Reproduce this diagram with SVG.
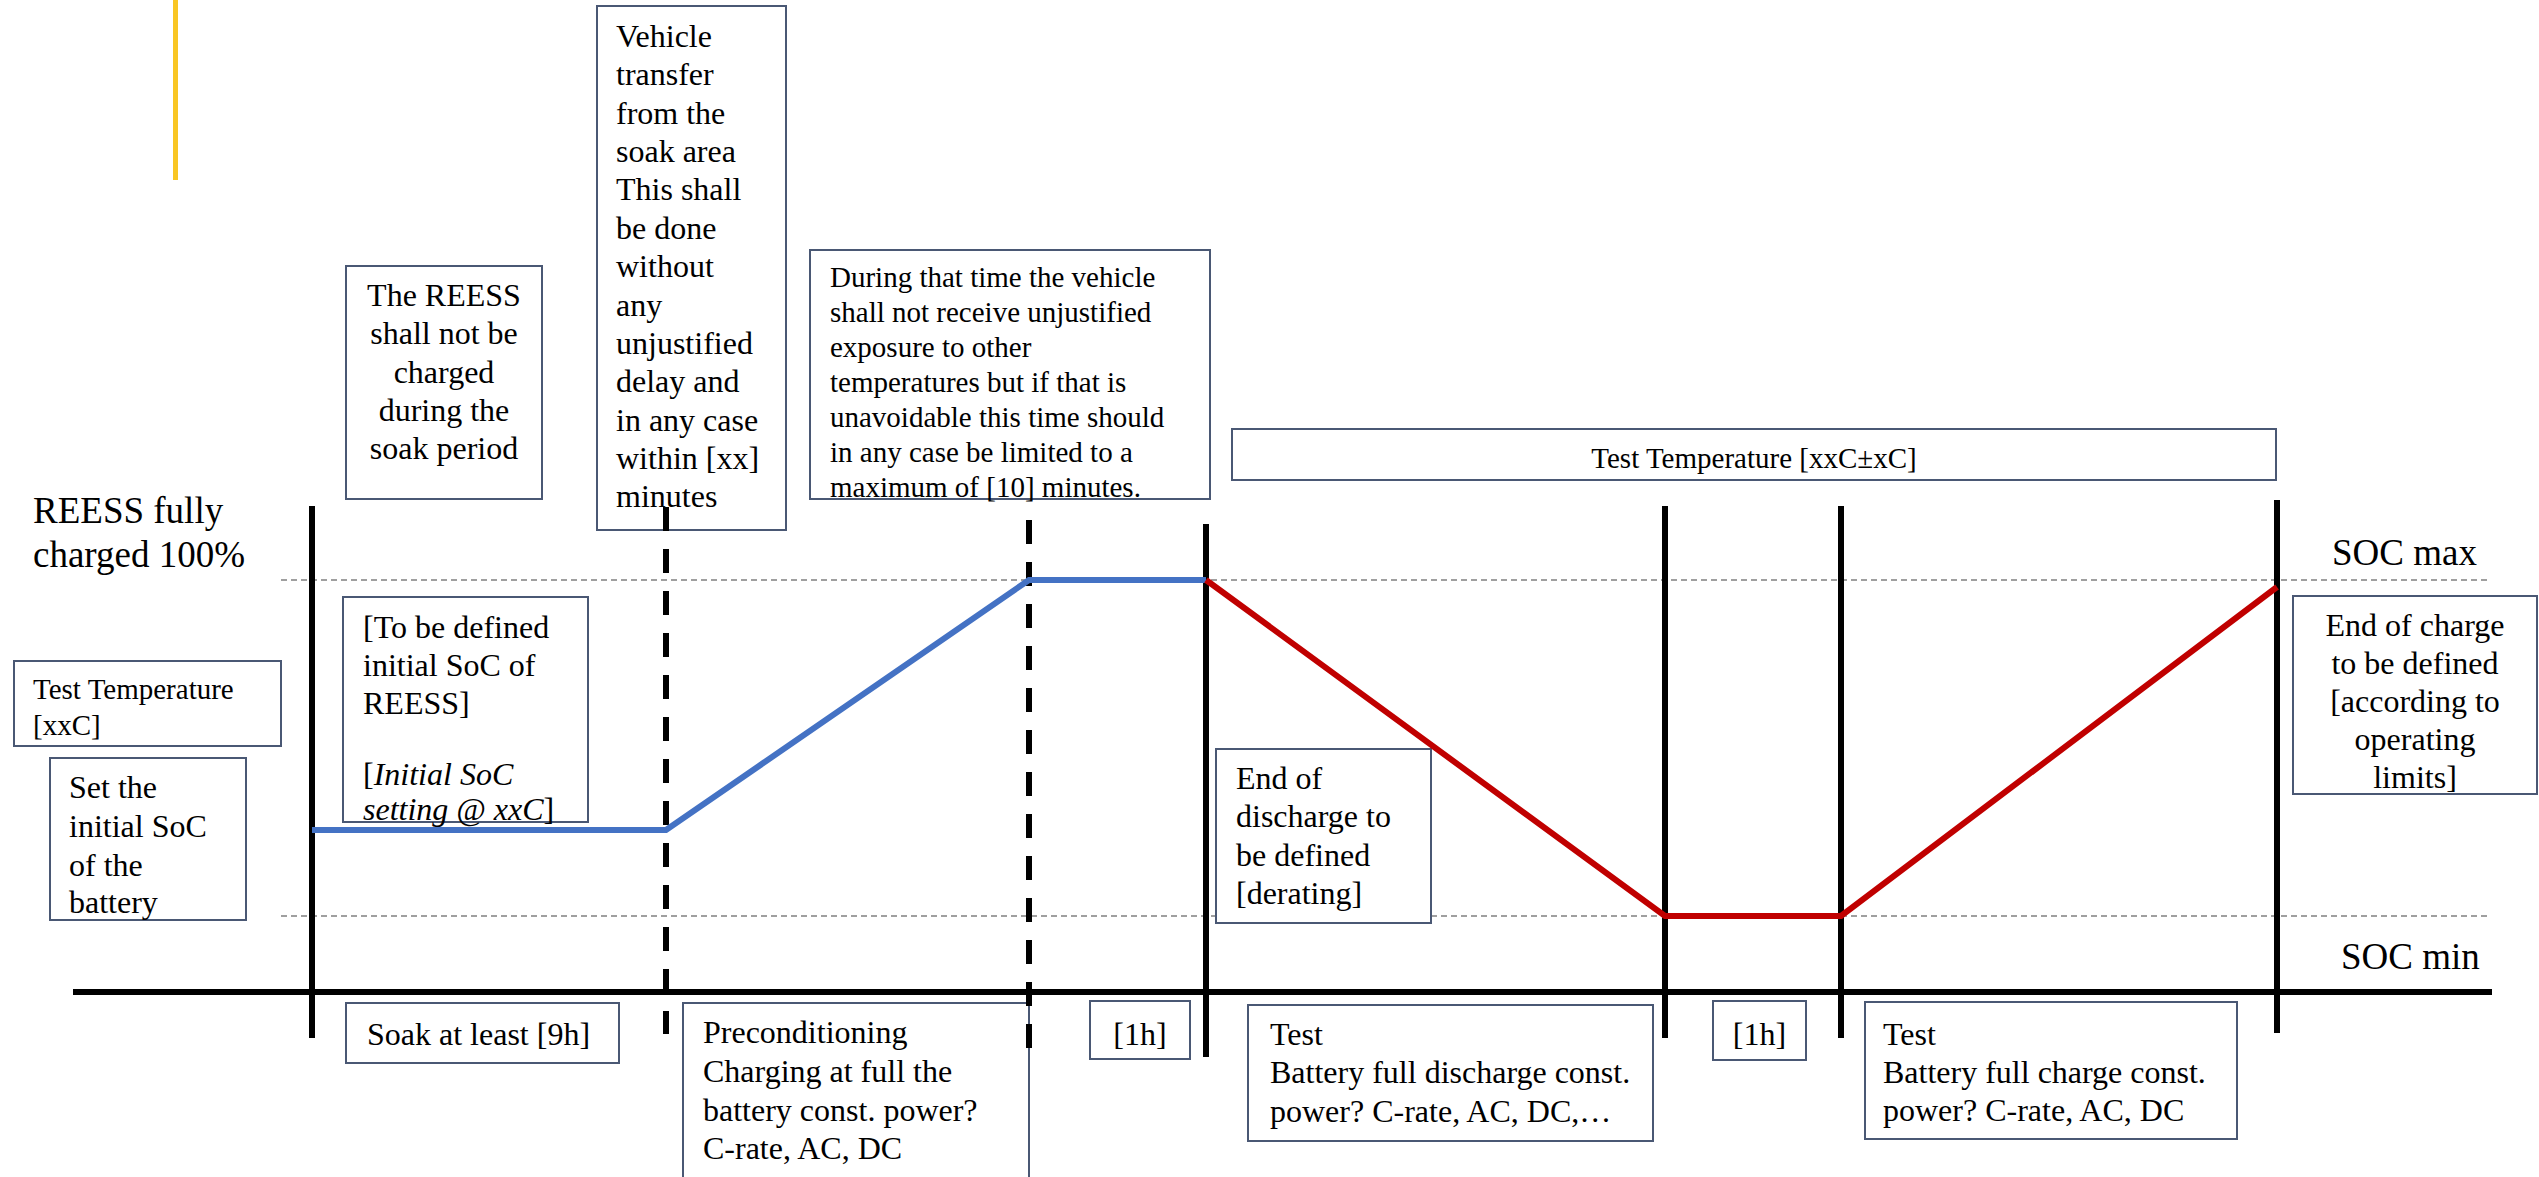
<svg xmlns="http://www.w3.org/2000/svg" width="2539" height="1177" viewBox="0 0 2539 1177">
<style>
text{font-family:"Liberation Serif","Times New Roman",serif;fill:#000}
.box{fill:#fff;stroke:#4a5874;stroke-width:2}
.t32{font-size:32px}
.t29{font-size:29px}
.big{font-size:37px}
.guide{stroke:#808080;stroke-width:1.5;stroke-dasharray:6 4;fill:none}
.solid{stroke:#000;stroke-width:6;fill:none}
.dash{stroke:#000;stroke-width:6;stroke-dasharray:24 18;fill:none}
.mid{text-anchor:middle}
</style>
<rect x="173" y="0" width="5" height="180" fill="#F9C623"/>

<g id="guides">
<line class="guide" x1="281" y1="580" x2="2490" y2="580"/>
<line class="guide" x1="281" y1="916" x2="2490" y2="916"/>
</g>

<g id="label-reess-full">
<text class="big" x="33" y="523">REESS fully</text>
<text class="big" x="33" y="567">charged 100%</text>
</g>
<g id="label-soc-max"><text class="big" x="2332" y="565">SOC max</text></g>
<g id="label-soc-min"><text class="big" x="2341" y="969">SOC min</text></g>

<g id="box-vehicle-transfer">
<rect class="box" x="597" y="6" width="189" height="524"/>
<text class="t32" x="616" y="47">Vehicle</text>
<text class="t32" x="616" y="85">transfer</text>
<text class="t32" x="616" y="124">from the</text>
<text class="t32" x="616" y="162">soak area</text>
<text class="t32" x="616" y="200">This shall</text>
<text class="t32" x="616" y="239">be done</text>
<text class="t32" x="616" y="277">without</text>
<text class="t32" x="616" y="316">any</text>
<text class="t32" x="616" y="354">unjustified</text>
<text class="t32" x="616" y="392">delay and</text>
<text class="t32" x="616" y="431">in any case</text>
<text class="t32" x="616" y="469">within [xx]</text>
<text class="t32" x="616" y="507">minutes</text>
</g>

<g id="box-not-charged">
<rect class="box" x="346" y="266" width="196" height="233"/>
<text class="t32 mid" x="444" y="306">The REESS</text>
<text class="t32 mid" x="444" y="344">shall not be</text>
<text class="t32 mid" x="444" y="383">charged</text>
<text class="t32 mid" x="444" y="421">during the</text>
<text class="t32 mid" x="444" y="459">soak period</text>
</g>

<g id="box-during">
<rect class="box" x="810" y="250" width="400" height="249"/>
<text class="t29" x="830" y="287">During that time the vehicle</text>
<text class="t29" x="830" y="322">shall not receive unjustified</text>
<text class="t29" x="830" y="357">exposure to other</text>
<text class="t29" x="830" y="392">temperatures but if that is</text>
<text class="t29" x="830" y="427">unavoidable this time should</text>
<text class="t29" x="830" y="462">in any case be limited to a</text>
<text class="t29" x="830" y="497">maximum of [10] minutes.</text>
</g>

<g id="box-test-temp-range">
<rect class="box" x="1232" y="429" width="1044" height="51"/>
<text class="t29 mid" x="1754" y="468">Test Temperature [xxC±xC]</text>
</g>

<g id="box-test-temp-left">
<rect class="box" x="14" y="661" width="267" height="85"/>
<text class="t29" x="33" y="699">Test Temperature</text>
<text class="t29" x="33" y="735">[xxC]</text>
</g>

<g id="box-set-initial">
<rect class="box" x="50" y="758" width="196" height="162"/>
<text class="t32" x="69" y="798">Set the</text>
<text class="t32" x="69" y="837">initial SoC</text>
<text class="t32" x="69" y="876">of the</text>
<text class="t32" x="69" y="913">battery</text>
</g>

<g id="box-initial-soc">
<rect class="box" x="343" y="597" width="245" height="225"/>
<text class="t32" x="363" y="638">[To be defined</text>
<text class="t32" x="363" y="676">initial SoC of</text>
<text class="t32" x="363" y="714">REESS]</text>
<text class="t32" x="363" y="785">[<tspan font-style="italic">Initial SoC</tspan></text>
<text class="t32" x="363" y="820"><tspan font-style="italic">setting @ xxC</tspan>]</text>
</g>

<g id="box-end-discharge">
<rect class="box" x="1216" y="749" width="215" height="174"/>
<text class="t32" x="1236" y="789">End of</text>
<text class="t32" x="1236" y="827">discharge to</text>
<text class="t32" x="1236" y="866">be defined</text>
<text class="t32" x="1236" y="904">[derating]</text>
</g>

<g id="box-end-charge">
<rect class="box" x="2293" y="596" width="244" height="198"/>
<text class="t32 mid" x="2415" y="636">End of charge</text>
<text class="t32 mid" x="2415" y="674">to be defined</text>
<text class="t32 mid" x="2415" y="712">[according to</text>
<text class="t32 mid" x="2415" y="750">operating</text>
<text class="t32 mid" x="2415" y="788">limits]</text>
</g>

<g id="box-soak">
<rect class="box" x="346" y="1003" width="273" height="60"/>
<text class="t32" x="367" y="1045">Soak at least [9h]</text>
</g>

<g id="box-preconditioning">
<rect class="box" x="683" y="1003" width="346" height="190"/>
<text class="t32" x="703" y="1043">Preconditioning</text>
<text class="t32" x="703" y="1082">Charging at full the</text>
<text class="t32" x="703" y="1121">battery const. power?</text>
<text class="t32" x="703" y="1159">C-rate, AC, DC</text>
</g>

<g id="box-1h-a">
<rect class="box" x="1090" y="1001" width="100" height="58"/>
<text class="t32 mid" x="1140" y="1045">[1h]</text>
</g>

<g id="box-test-discharge">
<rect class="box" x="1248" y="1005" width="405" height="136"/>
<text class="t32" x="1270" y="1045">Test</text>
<text class="t32" x="1270" y="1083">Battery full discharge const.</text>
<text class="t32" x="1270" y="1122">power? C-rate, AC, DC,…</text>
</g>

<g id="box-1h-b">
<rect class="box" x="1713" y="1001" width="93" height="59"/>
<text class="t32 mid" x="1759.5" y="1045">[1h]</text>
</g>

<g id="box-test-charge">
<rect class="box" x="1865" y="1002" width="372" height="137"/>
<text class="t32" x="1883" y="1045">Test</text>
<text class="t32" x="1883" y="1083">Battery full charge const.</text>
<text class="t32" x="1883" y="1121">power? C-rate, AC, DC</text>
</g>

<g id="connectors">
<line class="solid" x1="73" y1="992" x2="2492" y2="992"/>
<line class="solid" x1="312" y1="506" x2="312" y2="1038"/>
<line class="dash" x1="666" y1="507" x2="666" y2="1034"/>
<line class="dash" x1="1029" y1="520" x2="1029" y2="1048"/>
<line class="solid" x1="1206" y1="524" x2="1206" y2="1057"/>
<line class="solid" x1="1665" y1="506" x2="1665" y2="1038"/>
<line class="solid" x1="1841" y1="506" x2="1841" y2="1038"/>
<line class="solid" x1="2277" y1="500" x2="2277" y2="1033"/>
<polyline points="312,830 666,830 1029,580 1206,580" fill="none" stroke="#4472C4" stroke-width="6" stroke-linejoin="miter"/>
<polyline points="1206,580 1665,916 1841,916 2277,587" fill="none" stroke="#C00000" stroke-width="6" stroke-linejoin="miter"/>
</g>
</svg>
